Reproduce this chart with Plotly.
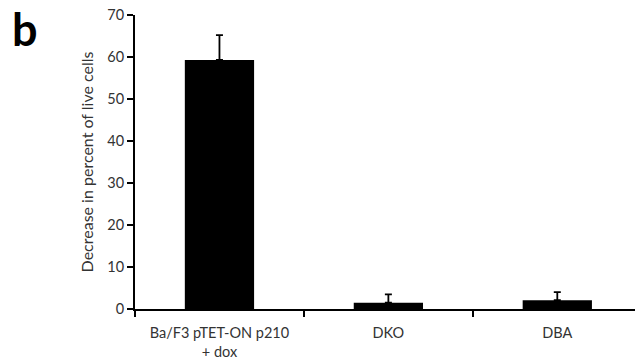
import plotly.graph_objects as go

categories = ["Ba/F3 pTET-ON p210<br>+ dox", "DKO", "DBA"]
values = [59.3, 1.5, 2.1]
errors = [5.9, 2.0, 1.9]
y_ticks = [0, 10, 20, 30, 40, 50, 60, 70]

FONT = "Lato"
TXT = "#333333"

fig = go.Figure()
fig.add_trace(go.Bar(
    x=categories, y=values,
    marker=dict(color="black", line=dict(width=0)),
    width=0.41,
    error_y=dict(type="data", array=errors, symmetric=False, arrayminus=[0, 0, 0],
                 color="black", thickness=1.8, width=3.5),
))

fig.update_layout(
    width=635, height=363,
    margin=dict(l=135, r=0, t=15, b=54),
    plot_bgcolor="white", paper_bgcolor="white",
    showlegend=False,
    font=dict(family=FONT, size=14.5, color=TXT),
)
fig.update_xaxes(
    type="category", range=[-0.5, 2.46], automargin=False,
    showline=True, linecolor="black", linewidth=2,
    ticks="outside", tickson="boundaries", ticklen=6, tickwidth=1.5, tickcolor="black",
    tickfont=dict(family=FONT, size=14.5, color=TXT), showgrid=False,
    ticklabelstandoff=10, ticklabeloverflow="allow",
)
fig.update_yaxes(
    range=[0, 70], tickvals=y_ticks, automargin=False,
    showline=True, linecolor="black", linewidth=2,
    ticks="outside", ticklen=6, tickwidth=1.5, tickcolor="black",
    tickfont=dict(family=FONT, size=14.5, color=TXT), showgrid=False, zeroline=False,
    ticklabeloverflow="allow",
    title=dict(text="Decrease in percent of live cells", font=dict(family=FONT, size=16, color=TXT), standoff=10),
)
fig.add_annotation(
    text="<b>b</b>", xref="paper", yref="paper", x=-0.25, y=1.05,
    xanchor="left", yanchor="top", showarrow=False,
    font=dict(family=FONT, size=45, color="black"),
)
# remove the browser's default 8px body margin so the figure fills the window exactly
fig.write_html("out.html", config={"displayModeBar": False},
               post_script="document.body.style.margin='0';")
